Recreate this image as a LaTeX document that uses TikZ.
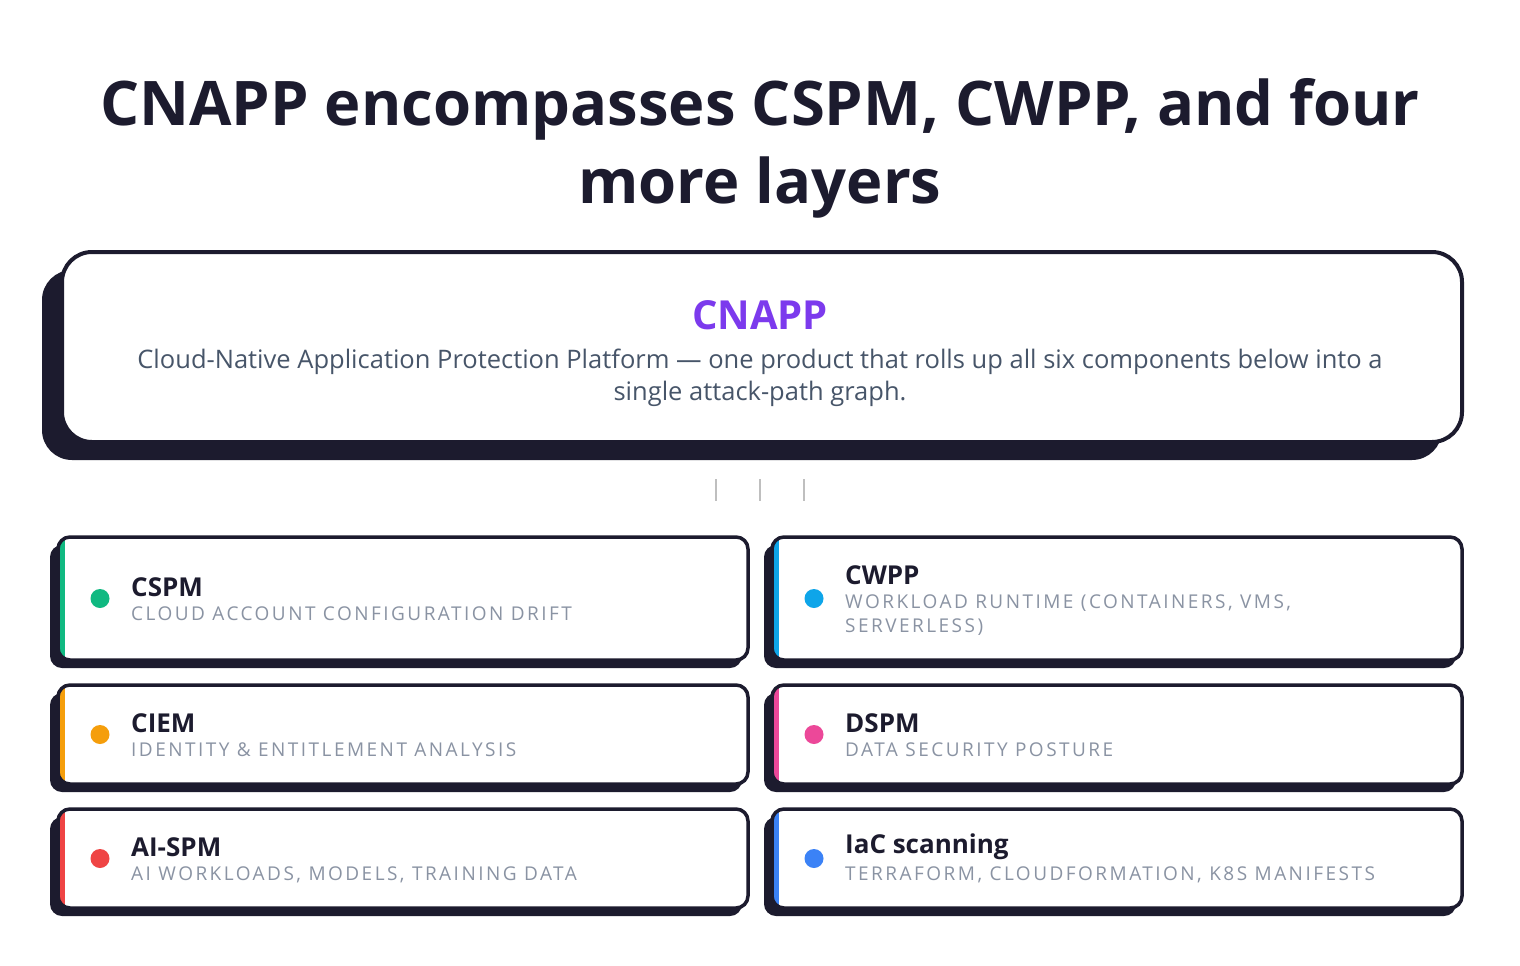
\documentclass[tikz,border=0pt]{standalone}
\usepackage{fontspec}
\setmainfont{Open Sans}
\definecolor{ink}{HTML}{1C1B2E}
\definecolor{sub}{HTML}{8A93A3}
\definecolor{body}{HTML}{475569}
\definecolor{pur}{HTML}{7C3AED}
\definecolor{cgreen}{HTML}{10B981}
\definecolor{cblue}{HTML}{0EA5E9}
\definecolor{corange}{HTML}{F59E0B}
\definecolor{cpink}{HTML}{EC4899}
\definecolor{cred}{HTML}{EF4444}
\definecolor{cblue2}{HTML}{3B82F6}
\newcommand{\mycard}[9]{% x1 y1 x2 y2 color title sub-y title-y name
  \fill[ink,rounded corners=12pt] (#1-8,#2+8) rectangle (#3-6,#4+8);
  \begin{scope}
    \clip[rounded corners=12pt] (#1,#2) rectangle (#3,#4);
    \fill[white] (#1,#2) rectangle (#3,#4);
    \fill[#5] (#1,#2) rectangle (#1+7,#4);
  \end{scope}
  \draw[ink,line width=3.5pt,rounded corners=12pt] (#1,#2) rectangle (#3,#4);
  \node[circle,fill=#5,minimum size=19pt,inner sep=0] (#9dot) at (#1+42,{(#2+#4)/2}) {};
  \node[anchor=west,inner sep=0,font=\fontsize{26}{28}\selectfont\bfseries,text=ink] (#9t) at (#1+73,#8) {#6};
  \node[anchor=north west,inner sep=0,align=left,font=\fontsize{19}{24}\selectfont\addfontfeatures{LetterSpace=13},text=sub] (#9s) at (#1+73,#8+20) {#7};
}
\begin{document}
\begin{tikzpicture}[x=1pt,y=-1pt]
\useasboundingbox (0,0) rectangle (1520,966);
\fill[white] (0,0) rectangle (1520,966);
\node[font=\fontsize{61.5}{78}\selectfont\bfseries,text=ink,align=center,inner sep=0] (title) at (760,148)
  {CNAPP encompasses CSPM, CWPP, and four\\more layers};
\fill[ink,rounded corners=30pt] (42,270) rectangle (1442,460);
\draw[ink,line width=4pt,fill=white,rounded corners=30pt] (62,252) rectangle (1462,442);
\node[font=\fontsize{40}{44}\selectfont\bfseries,text=pur,inner sep=0] (cnapp) at (760,315) {CNAPP};
\node[font=\fontsize{25.5}{32}\selectfont,text=body,align=center,inner sep=0] (desc) at (760,378)
  {Cloud-Native Application Protection Platform — one product that rolls up all six components below into a\\single attack-path graph.};
\foreach \xx/\nm in {716/d1,760/d2,804/d3}
  \draw[gray!50,line width=2.5pt] (\xx,479) coordinate (\nm a) -- (\xx,501) coordinate (\nm b);
\mycard{58}{537}{748}{660}{cgreen}{CSPM}{CLOUD ACCOUNT CONFIGURATION DRIFT}{587}{a}
\mycard{772}{537}{1462}{660}{cblue}{CWPP}{WORKLOAD RUNTIME (CONTAINERS, VMS,\\SERVERLESS)}{575}{b}
\mycard{58}{685}{748}{784}{corange}{CIEM}{IDENTITY \& ENTITLEMENT ANALYSIS}{723}{c}
\mycard{772}{685}{1462}{784}{cpink}{DSPM}{DATA SECURITY POSTURE}{723}{d}
\mycard{58}{809}{748}{908}{cred}{AI-SPM}{AI WORKLOADS, MODELS, TRAINING DATA}{847}{e}
\mycard{772}{809}{1462}{908}{cblue2}{IaC scanning}{TERRAFORM, CLOUDFORMATION, K8S MANIFESTS}{847}{f}
\end{tikzpicture}
\end{document}
